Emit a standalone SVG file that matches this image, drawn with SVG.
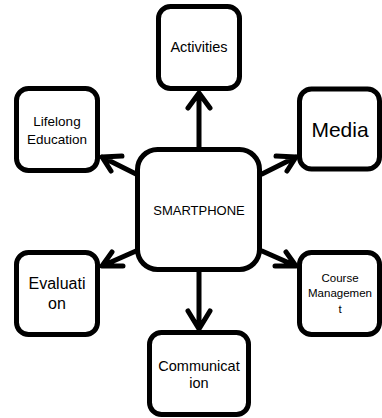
<svg xmlns="http://www.w3.org/2000/svg" width="382" height="418" viewBox="0 0 382 418">
<style>
.box{fill:#fff;stroke:#000;stroke-width:5}
.ln{fill:none;stroke:#000;stroke-width:5;stroke-linecap:round;stroke-linejoin:round}
text{font-family:"Liberation Sans",Arial,sans-serif;fill:#000;text-anchor:middle}
</style>
<rect width="382" height="418" fill="#fff"/>
<g id="connectors">
<path class="ln" d="M199,149 V93 M188,108 L199,93 L210,108"/>
<path class="ln" d="M199,272 V329 M188,311 L199,329 L210,311"/>
<path class="ln" d="M136,174 L102,157 M122,156 L102,157 L111,171"/>
<path class="ln" d="M262,174 L296,157 M276,156 L296,157 L287,171"/>
<path class="ln" d="M136,251 L102,266 M123,266 L102,266 L112,252"/>
<path class="ln" d="M262,251 L296,266 M275,266 L296,266 L286,252"/>
</g>
<g id="smartphone">
<rect class="box" x="137.5" y="149.5" width="122" height="120" rx="20"/>
<text x="199" y="214.5" font-size="13">SMARTPHONE</text>
</g>
<g id="activities">
<rect class="box" x="158.5" y="6.5" width="81" height="82" rx="12"/>
<text x="199" y="52" font-size="14.5">Activities</text>
</g>
<g id="lifelong">
<rect class="box" x="16.5" y="88.5" width="81" height="82" rx="12"/>
<text x="57" y="126" font-size="13.5">Lifelong</text>
<text x="57" y="144" font-size="13.5">Education</text>
</g>
<g id="media">
<rect class="box" x="299.5" y="89" width="80" height="80" rx="12"/>
<text x="340" y="136.5" font-size="21">Media</text>
</g>
<g id="evaluation">
<rect class="box" x="16.5" y="252.5" width="81" height="82" rx="12"/>
<text x="57" y="289" font-size="16">Evaluati</text>
<text x="57" y="309" font-size="16">on</text>
</g>
<g id="course">
<rect class="box" x="299.5" y="252.5" width="80" height="82" rx="12"/>
<text x="340" y="282" font-size="11.5">Course</text>
<text x="340" y="297" font-size="11.5">Managemen</text>
<text x="340" y="313" font-size="11.5">t</text>
</g>
<g id="communication">
<rect class="box" x="149.5" y="332.5" width="99" height="82" rx="12"/>
<text x="199" y="371" font-size="14.5">Communicat</text>
<text x="199" y="388" font-size="14.5">ion</text>
</g>
</svg>
